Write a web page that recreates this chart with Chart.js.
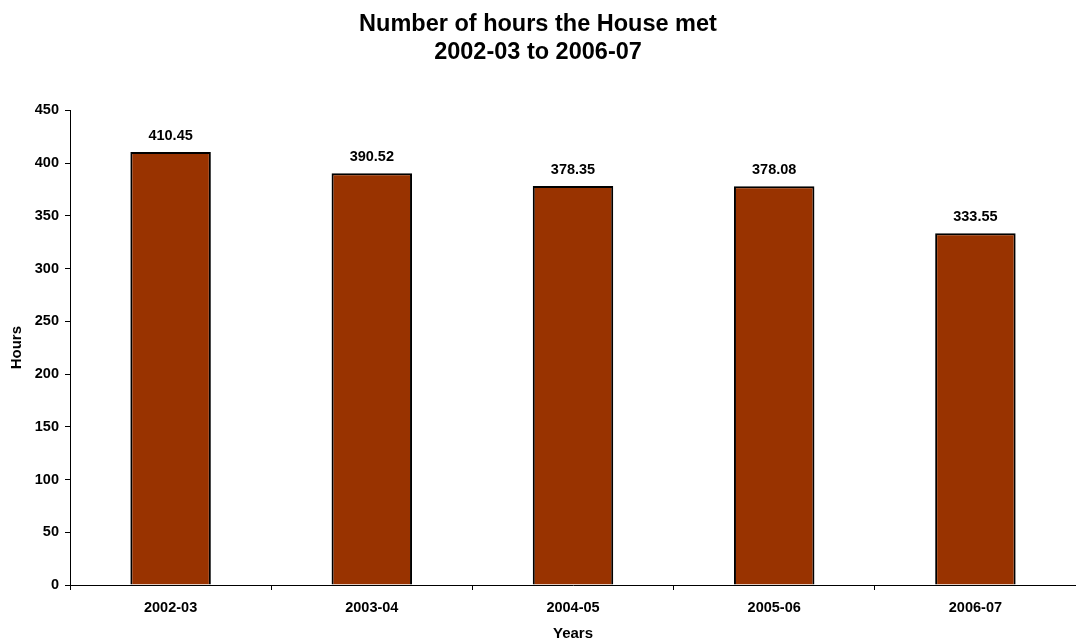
<!DOCTYPE html>
<html>
<head>
<meta charset="utf-8">
<script src="https://cdn.jsdelivr.net/npm/chart.js@4/dist/chart.umd.min.js"></script>
<style>
  html, body { margin: 0; padding: 0; background: #fff; }
  #wrap { width: 1076px; height: 643px; }
</style>
</head>
<body>
<div id="wrap"><canvas id="chart"></canvas></div>
<script>
const years = ['2002-03', '2003-04', '2004-05', '2005-06', '2006-07'];
const hours = [410.45, 390.52, 378.35, 378.08, 333.55];
const hourTicks = [0, 50, 100, 150, 200, 250, 300, 350, 400, 450];

const font = 'Liberation Sans, Arial, sans-serif';

// prints the value above each bar
const valueLabels = {
    id: 'valueLabels',
    afterDatasetsDraw(chart) {
        const ctx = chart.ctx;
        const meta = chart.getDatasetMeta(0);
        ctx.save();
        ctx.font = 'bold 14.5px ' + font;
        ctx.fillStyle = '#000';
        ctx.textAlign = 'center';
        ctx.textBaseline = 'middle';
        meta.data.forEach((bar, i) => {
            ctx.fillText(hours[i].toFixed(2), bar.x, bar.y - 16);
        });
        ctx.restore();
    }
};

const ctx = document.getElementById('chart').getContext('2d');
new Chart(ctx, {
    type: 'bar',
    data: {
        labels: years,
        datasets: [{
            data: hours,
            backgroundColor: '#993300',
            borderColor: '#000',
            borderWidth: 2,
            borderSkipped: 'bottom',
            categoryPercentage: 1,
            barPercentage: 0.4
        }]
    },
    options: {
        responsive: true,
        maintainAspectRatio: false,
        animation: false,
        layout: { padding: 0 },
        plugins: {
            legend: { display: false },
            tooltip: { enabled: false },
            title: {
                display: true,
                text: ['Number of hours the House met', '2002-03 to 2006-07'],
                color: '#000',
                font: { family: font, size: 23.5, weight: 'bold', lineHeight: 1.2 },
                padding: { top: 10, bottom: 44 }
            }
        },
        scales: {
            x: {
                border: { color: '#000', width: 1 },
                grid: { drawOnChartArea: false, color: '#000', tickLength: 5, offset: true },
                ticks: { color: '#000', font: { family: font, size: 14.5, weight: 'bold' }, padding: 9 },
                title: {
                    display: true, text: 'Years', color: '#000',
                    font: { family: font, size: 15, weight: 'bold' },
                    padding: { top: 6, bottom: 0 }
                },
                afterFit(scale) { scale.height = 58; }
            },
            y: {
                min: 0,
                max: 450,
                border: { color: '#000', width: 1 },
                grid: { drawOnChartArea: false, color: '#000', tickLength: 5 },
                afterBuildTicks(scale) { scale.ticks = hourTicks.map(v => ({ value: v })); },
                ticks: { color: '#000', font: { family: font, size: 14.5, weight: 'bold' }, padding: 6 },
                title: {
                    display: true, text: 'Hours', color: '#000',
                    font: { family: font, size: 15, weight: 'bold' },
                    padding: { top: 8, bottom: 0 }
                },
                afterFit(scale) { scale.width = 70; }
            }
        }
    },
    plugins: [valueLabels]
});
</script>
</body>
</html>
